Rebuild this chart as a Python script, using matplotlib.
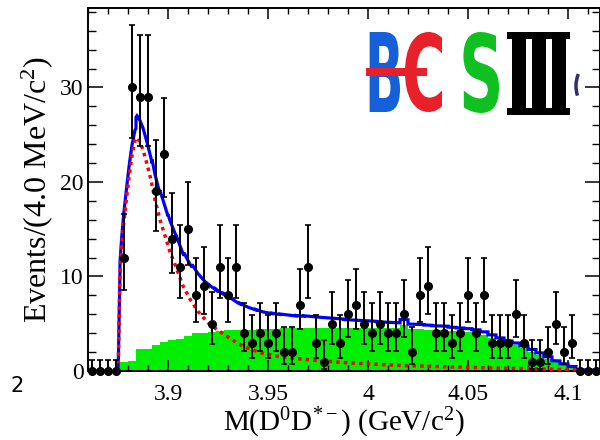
import numpy as np
import matplotlib
matplotlib.use("Agg")
import matplotlib.pyplot as plt
from matplotlib.textpath import TextPath
from matplotlib.font_manager import FontProperties
from matplotlib.path import Path
from matplotlib.patches import PathPatch, Rectangle, Arc

# ---------------- data ----------------
bin_lo = 3.860
bin_width = 0.004
counts = [0, 0, 0, 0, 12, 30, 29, 29, 19, 23, 14, 11, 15, 8, 9, 5,
          11, 8, 11, 4, 3, 4, 3, 4, 2, 2, 7, 11, 3, 1, 5, 3,
          6, 7, 5, 4, 5, 4, 4, 6, 2, 8, 9, 4, 4, 3, 4, 8,
          4, 8, 3, 3, 3, 6, 3, 1, 1, 2, 5, 2, 3, 0, 0, 0]
# Poisson error bars as drawn (lower, upper) for each count value
err_low_by_n = {0: 0.0, 1: 0.83, 2: 1.29, 3: 1.63, 4: 1.91, 5: 2.16, 6: 2.38,
                7: 2.58, 8: 2.77, 9: 2.94, 11: 3.25, 12: 3.39, 14: 3.65,
                15: 3.77, 19: 4.21, 23: 4.60, 29: 5.20, 30: 5.30}
err_high_by_n = {0: 1.15, 1: 2.30, 2: 2.64, 3: 2.92, 4: 3.16, 5: 3.38, 6: 3.58,
                 7: 3.77, 8: 3.95, 9: 4.11, 11: 4.42, 12: 4.56, 14: 4.83,
                 15: 4.96, 19: 5.45, 23: 5.90, 29: 6.50, 30: 6.60}
# background (green histogram), per 4 MeV bin
bkg = [0, 0, 0, 0, 1.0, 1.1, 2.3, 2.3, 2.7, 3.1, 3.3, 3.4, 3.7, 4.0, 4.0, 4.1,
       4.2, 4.3, 4.3, 4.35, 4.35, 4.4, 4.4, 4.45, 4.5, 4.5, 4.55, 4.6, 4.6, 4.6, 4.6, 4.6,
       4.55, 4.55, 4.55, 4.55, 4.5, 4.5, 4.5, 4.85, 4.4, 4.4, 4.35, 4.3, 4.3, 4.2, 4.15, 4.1,
       4.0, 3.8, 3.5, 3.2, 2.9, 2.7, 2.4, 2.05, 1.7, 1.3, 0.9, 0.6, 0.35, 0, 0, 0]
# signal shape (red dotted)
sig_m = [3.8751, 3.8755, 3.8760, 3.8768, 3.8778, 3.8790, 3.8805, 3.8820, 3.8835,
         3.8845, 3.8858, 3.8875, 3.8895, 3.8915, 3.8935, 3.8960, 3.8985, 3.9010,
         3.9040, 3.9075, 3.9110, 3.9150, 3.9200, 3.9250, 3.9300, 3.9350, 3.9400,
         3.9475, 3.9550, 3.9650, 3.9750, 3.9875, 4.0000, 4.0150, 4.0300, 4.0500,
         4.0700, 4.0900, 4.1040, 4.1160]
sig_v = [0.0, 5.0, 10.5, 13.0, 15.5, 17.8, 20.5, 22.8, 24.4,
         24.7, 24.3, 23.4, 21.9, 20.2, 18.1, 16.0, 14.3, 12.6,
         11.0, 9.0, 7.6, 6.3, 5.1, 4.3, 3.6, 2.9, 2.4,
         1.85, 1.55, 1.3, 1.1, 0.9, 0.75, 0.6, 0.5, 0.38,
         0.28, 0.2, 0.12, 0.08]
x_ticks = [3.9, 3.95, 4.0, 4.05, 4.1]
x_ticklabels = ["3.9", "3.95", "4", "4.05", "4.1"]
y_ticks = [0, 10, 20, 30]

# ---------------- figure ----------------
plt.rcParams['font.family'] = ['Liberation Serif', 'DejaVu Serif']
plt.rcParams['mathtext.fontset'] = 'stix'

W, H = 600, 440
fig = plt.figure(figsize=(6, 4.4), dpi=100)
ax = fig.add_axes([88 / W, 1 - 371 / H, 512 / W, 363 / H])

nb = len(counts)
edges = bin_lo + bin_width * np.arange(nb + 1)
centers = edges[:-1] + bin_width / 2
cnt = np.array(counts, dtype=float)
elo = np.array([err_low_by_n[c] for c in counts])
ehi = np.array([err_high_by_n[c] for c in counts])
bk = np.array(bkg, dtype=float)

green = '#00ee00'
ax.stairs(bk, edges, fill=True, color=green, lw=0, zorder=1)

# total = signal + background (stepped)
sm = np.array(sig_m)
sv = np.array(sig_v)
xs = np.unique(np.concatenate([sm, edges[(edges > sm[0]) & (edges <= edges[-1])]]))
tx, ty = [sm[0]], [0.0]
for i in range(len(xs)):
    x = xs[i]
    s = np.interp(x, sm, sv)
    j_right = min(int(np.floor((x - bin_lo) / bin_width + 1e-9)), nb - 1)
    j_left = min(int(np.floor((x - bin_lo) / bin_width - 1e-9)), nb - 1)
    if i == 0:
        j_left = j_right
    tx.append(x); ty.append(s + bk[j_left])
    if j_right != j_left:
        tx.append(x); ty.append(s + bk[j_right])
ax.plot(tx, ty, color='#0000ff', lw=2.3, zorder=3, solid_joinstyle='miter')
ax.plot(sm, sv, color='#ff0000', lw=2.5, ls=(0, (1, 1.2)), zorder=4)

# data points
ax.errorbar(centers, cnt, xerr=bin_width / 2, fmt='none', ecolor='black',
            elinewidth=1.4, capsize=0, zorder=5)
ax.errorbar(centers, cnt, yerr=[elo, ehi], fmt='o', color='black', ms=5.5,
            elinewidth=1.4, capsize=2.0, capthick=1.2, zorder=6, clip_on=False)

ax.set_xlim(edges[0], edges[-1])
ax.set_ylim(0, 38.4)
ax.set_xticks(x_ticks)
ax.set_xticklabels(x_ticklabels)
ax.set_xticks(np.arange(3.86, 4.1161, 0.01), minor=True)
ax.set_yticks(y_ticks)
ax.set_yticks(np.arange(0, 38.1, 2), minor=True)
ax.tick_params(axis='x', which='major', direction='in', length=8, width=1.1,
               top=True, bottom=True, labelsize=17, pad=9, colors='black')
ax.tick_params(axis='x', which='minor', direction='in', length=4, width=1.0,
               top=True, bottom=True)
ax.tick_params(axis='y', which='major', direction='in', length=11, width=1.1,
               left=True, right=True, labelsize=17, pad=3)
ax.tick_params(axis='y', which='minor', direction='in', length=5.5, width=1.0,
               left=True, right=True)
for sp in ax.spines.values():
    sp.set_linewidth(1.4)
ax.set_ylabel(r"Events/(4.0 MeV/c$\mathregular{^2}$)", fontsize=23, labelpad=4)
ax.set_xlabel(r"M(D$\mathregular{^0}$D$\mathregular{^{*-}}$) (GeV/c$\mathregular{^2}$)",
              fontsize=21, labelpad=1)

# ---------------- BESIII logo ----------------
ov = fig.add_axes([0, 0, 1, 1], facecolor='none')
ov.set_xlim(0, W)
ov.set_ylim(H, 0)
ov.axis('off')


def glyph(s, box, color, family='DejaVu Sans', weight='bold'):
    x0, y0, x1, y1 = box
    tp = TextPath((0, 0), s, size=100, prop=FontProperties(family=family, weight=weight))
    v = tp.vertices.copy()
    bx0, by0 = v.min(axis=0)
    bx1, by1 = v.max(axis=0)
    nv = np.empty_like(v)
    nv[:, 0] = x0 + (v[:, 0] - bx0) / (bx1 - bx0) * (x1 - x0)
    nv[:, 1] = y0 + (by1 - v[:, 1]) / (by1 - by0) * (y1 - y0)
    ov.add_patch(PathPatch(Path(nv, tp.codes), facecolor=color, edgecolor='none'))


glyph("B", (365, 32, 400, 112), '#1560d8')
glyph("C", (402, 32, 442, 112), '#e8202a')
ov.add_patch(Rectangle((366, 68), 61, 8, facecolor='#e8202a', edgecolor='none'))
glyph("S", (459, 32, 499, 113), '#10c020')
# roman III
ov.add_patch(Rectangle((507, 32), 63, 7, facecolor='black'))
ov.add_patch(Rectangle((507, 108), 63, 7, facecolor='black'))
for sx in (512, 532, 552):
    ov.add_patch(Rectangle((sx, 32), 14, 83, facecolor='black'))
ov.add_patch(Arc((604, 86), 56, 60, theta1=160, theta2=205, color='#303070', lw=2.5))

fig.text(10 / W, 1 - 386 / H, "2", fontsize=15, family='DejaVu Sans', va='center')

fig.savefig("out.png", dpi=100)
